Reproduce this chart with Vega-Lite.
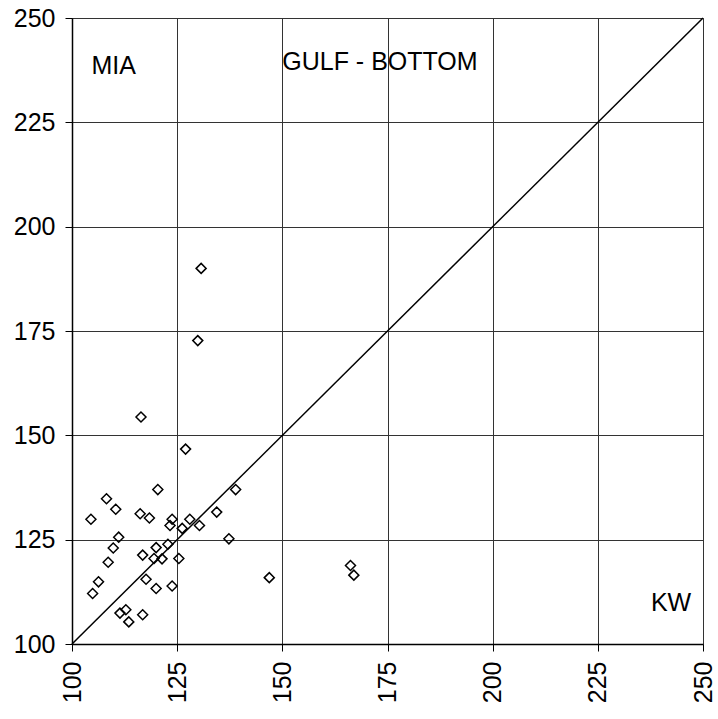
{
  "$schema": "https://vega.github.io/schema/vega-lite/v6.json",
  "autosize": {"type": "none"},
  "width": 631,
  "height": 626,
  "padding": {"left": 72, "top": 18, "right": 15, "bottom": 75},
  "background": "white",
  "config": {
    "view": {"stroke": "#888", "strokeWidth": 1},
    "axis": {
      "labelFont": "Liberation Sans",
      "labelFontSize": 25,
      "labelColor": "black",
      "domainColor": "black",
      "domainWidth": 1.5,
      "tickColor": "black",
      "tickSize": 7,
      "gridColor": "#333",
      "gridWidth": 1,
      "title": null
    }
  },
  "datasets": {
    "pts": [
      {"kw": 127.0, "mia": 146.7},
      {"kw": 120.4, "mia": 137.0},
      {"kw": 108.2, "mia": 134.8},
      {"kw": 138.9, "mia": 137.0},
      {"kw": 110.4, "mia": 132.3},
      {"kw": 104.5, "mia": 129.9},
      {"kw": 116.2, "mia": 131.2},
      {"kw": 118.4, "mia": 130.2},
      {"kw": 123.8, "mia": 129.9},
      {"kw": 123.3, "mia": 128.4},
      {"kw": 128.0, "mia": 129.9},
      {"kw": 134.4, "mia": 131.6},
      {"kw": 126.2, "mia": 127.7},
      {"kw": 130.3, "mia": 128.4},
      {"kw": 111.1, "mia": 125.6},
      {"kw": 137.3, "mia": 125.2},
      {"kw": 109.8, "mia": 123.0},
      {"kw": 120.0, "mia": 123.1},
      {"kw": 122.8, "mia": 123.9},
      {"kw": 116.8, "mia": 121.3},
      {"kw": 119.5, "mia": 120.5},
      {"kw": 121.4, "mia": 120.4},
      {"kw": 125.4, "mia": 120.5},
      {"kw": 108.6, "mia": 119.6},
      {"kw": 106.3, "mia": 114.9},
      {"kw": 104.9, "mia": 112.1},
      {"kw": 117.6, "mia": 115.5},
      {"kw": 120.0, "mia": 113.3},
      {"kw": 123.8, "mia": 113.9},
      {"kw": 112.8, "mia": 108.2},
      {"kw": 111.4, "mia": 107.4},
      {"kw": 116.8, "mia": 107.0},
      {"kw": 113.5, "mia": 105.3},
      {"kw": 146.9, "mia": 115.9},
      {"kw": 166.2, "mia": 118.8},
      {"kw": 167.0, "mia": 116.5},
      {"kw": 130.7, "mia": 190.0},
      {"kw": 129.9, "mia": 172.7},
      {"kw": 116.4, "mia": 154.4}
    ],
    "diag": [
      {"kw": 100, "mia": 100},
      {"kw": 250, "mia": 250}
    ],
    "labels": [
      {"kw": 109.9, "mia": 238.5, "label": "MIA"},
      {"kw": 173.2, "mia": 239.5, "label": "GULF - BOTTOM"},
      {"kw": 242.4, "mia": 109.8, "label": "KW"}
    ]
  },
  "layer": [
    {
      "data": {"name": "diag"},
      "mark": {"type": "line", "color": "black", "strokeWidth": 1.5},
      "encoding": {
        "x": {"field": "kw", "type": "quantitative", "scale": {"domain": [100, 250], "nice": false, "zero": false},
              "axis": {"values": [100, 125, 150, 175, 200, 225, 250], "labelAngle": -90, "labelAlign": "right", "labelBaseline": "middle", "labelPadding": 10, "grid": true}},
        "y": {"field": "mia", "type": "quantitative", "scale": {"domain": [100, 250], "nice": false, "zero": false},
              "axis": {"values": [100, 125, 150, 175, 200, 225, 250], "labelPadding": 10, "grid": true}}
      }
    },
    {
      "data": {"name": "pts"},
      "mark": {"type": "point", "shape": "diamond", "filled": false, "stroke": "black", "strokeWidth": 1.5, "size": 100, "opacity": 1},
      "encoding": {
        "x": {"field": "kw", "type": "quantitative"},
        "y": {"field": "mia", "type": "quantitative"}
      }
    },
    {
      "data": {"name": "labels"},
      "mark": {"type": "text", "font": "Liberation Sans", "fontSize": 25, "color": "black", "baseline": "middle", "align": "center"},
      "encoding": {
        "x": {"field": "kw", "type": "quantitative"},
        "y": {"field": "mia", "type": "quantitative"},
        "text": {"field": "label"}
      }
    }
  ]
}
